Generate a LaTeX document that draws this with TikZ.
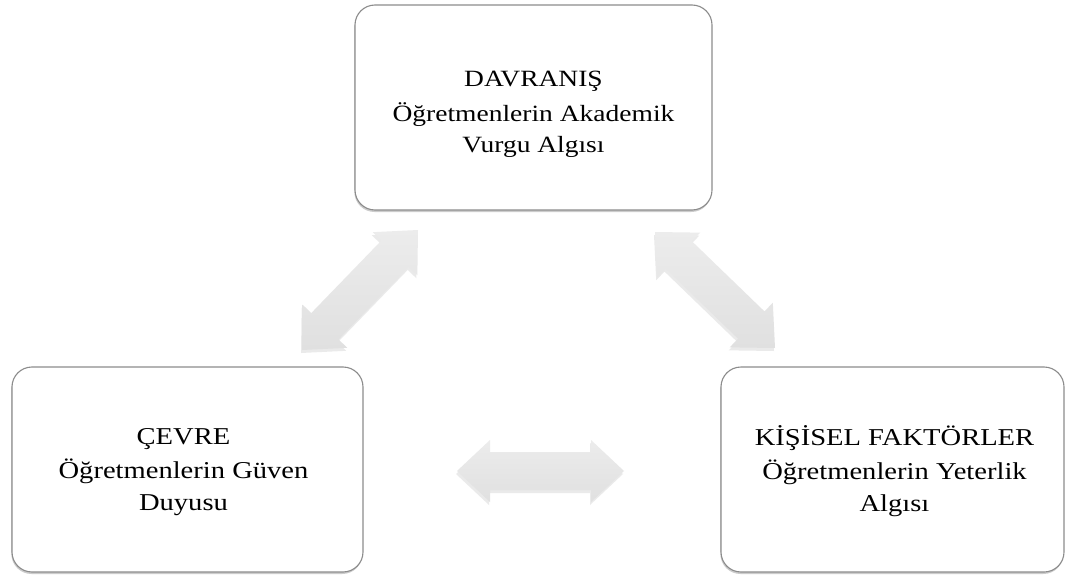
\documentclass[tikz,border=0pt]{standalone}
\usepackage{fontspec}
\setmainfont{Liberation Serif}[FakeStretch=1.18]
\usetikzlibrary{calc,shadows}
\definecolor{boxline}{RGB}{140,140,140}
\definecolor{arrowlight}{RGB}{236,236,236}
\definecolor{arrowdark}{RGB}{224,224,224}
\tikzset{
  box/.style={draw=boxline, line width=1.1pt, fill=white, rounded corners=20pt,
    inner sep=0pt,
    drop shadow={shadow xshift=-0.6pt, shadow yshift=-2pt, opacity=0.4}},
  txt/.style={align=center, inner sep=0pt, font=\fontsize{23.3}{31}\selectfont},
  txtb/.style={align=center, inner sep=0pt, font=\fontsize{24.2}{31.5}\selectfont},
  blockarrow/.style={top color=arrowlight, bottom color=arrowdark, draw=none,
    drop shadow={shadow xshift=-1pt, shadow yshift=-3pt, opacity=0.16}},
}
% double block arrow between two named coordinates
\newcommand\dblarrow[3]{%
  \coordinate (#3p) at ($(#1)!33pt!(#2)$);
  \coordinate (#3q) at ($(#2)!33pt!(#1)$);
  \path[blockarrow] (#1)
    -- ($(#3p)!31pt!90:(#2)$) -- ($(#3p)!19pt!90:(#2)$)
    -- ($(#3q)!19pt!-90:(#1)$) -- ($(#3q)!31pt!-90:(#1)$)
    -- (#2)
    -- ($(#3q)!31pt!90:(#1)$) -- ($(#3q)!19pt!90:(#1)$)
    -- ($(#3p)!19pt!-90:(#2)$) -- ($(#3p)!31pt!-90:(#2)$)
    -- cycle;}
\newcommand\topstrut{\rule{0pt}{17pt}}
\newcommand\botstrut{\rule[-6pt]{0pt}{6pt}}
\begin{document}
\begin{tikzpicture}[x=1pt,y=-1pt]
  \useasboundingbox (0,0) rectangle (1066,575);
  \fill[white] (0,0) rectangle (1066,575);

  % boxes
  \node[box, minimum width=357pt, minimum height=205pt] (davr) at (533.5,107.5) {};
  \node[box, minimum width=351pt, minimum height=205pt] (cevre) at (187.5,469.5) {};
  \node[box, minimum width=343pt, minimum height=205pt] (kisi) at (892.5,469.5) {};

  % texts
  \node[txt] (davrt) at ($(davr.center)+(0,7)$)
    {\topstrut DAVRANIŞ\\[4pt]Öğretmenlerin Akademik\\Vurgu Algısı\botstrut};
  \node[txtb] (cevret) at ($(cevre.center)+(-4,2)$)
    {\topstrut ÇEVRE\\[3pt]Öğretmenlerin Güven\\Duyusu\botstrut};
  \node[txtb] (kisit) at ($(kisi.center)+(2,2)$)
    {\topstrut KİŞİSEL FAKTÖRLER\\[3pt]Öğretmenlerin Yeterlik\\Algısı\botstrut};

  % arrow end points
  \coordinate (la) at (302,350);
  \coordinate (lb) at (418,230);
  \coordinate (ra) at (655,232);
  \coordinate (rb) at (775,348);
  \coordinate (ha) at (457,471);
  \coordinate (hb) at (624,471);

  \dblarrow{la}{lb}{L}
  \dblarrow{ra}{rb}{R}
  \dblarrow{ha}{hb}{H}
\end{tikzpicture}
\end{document}
